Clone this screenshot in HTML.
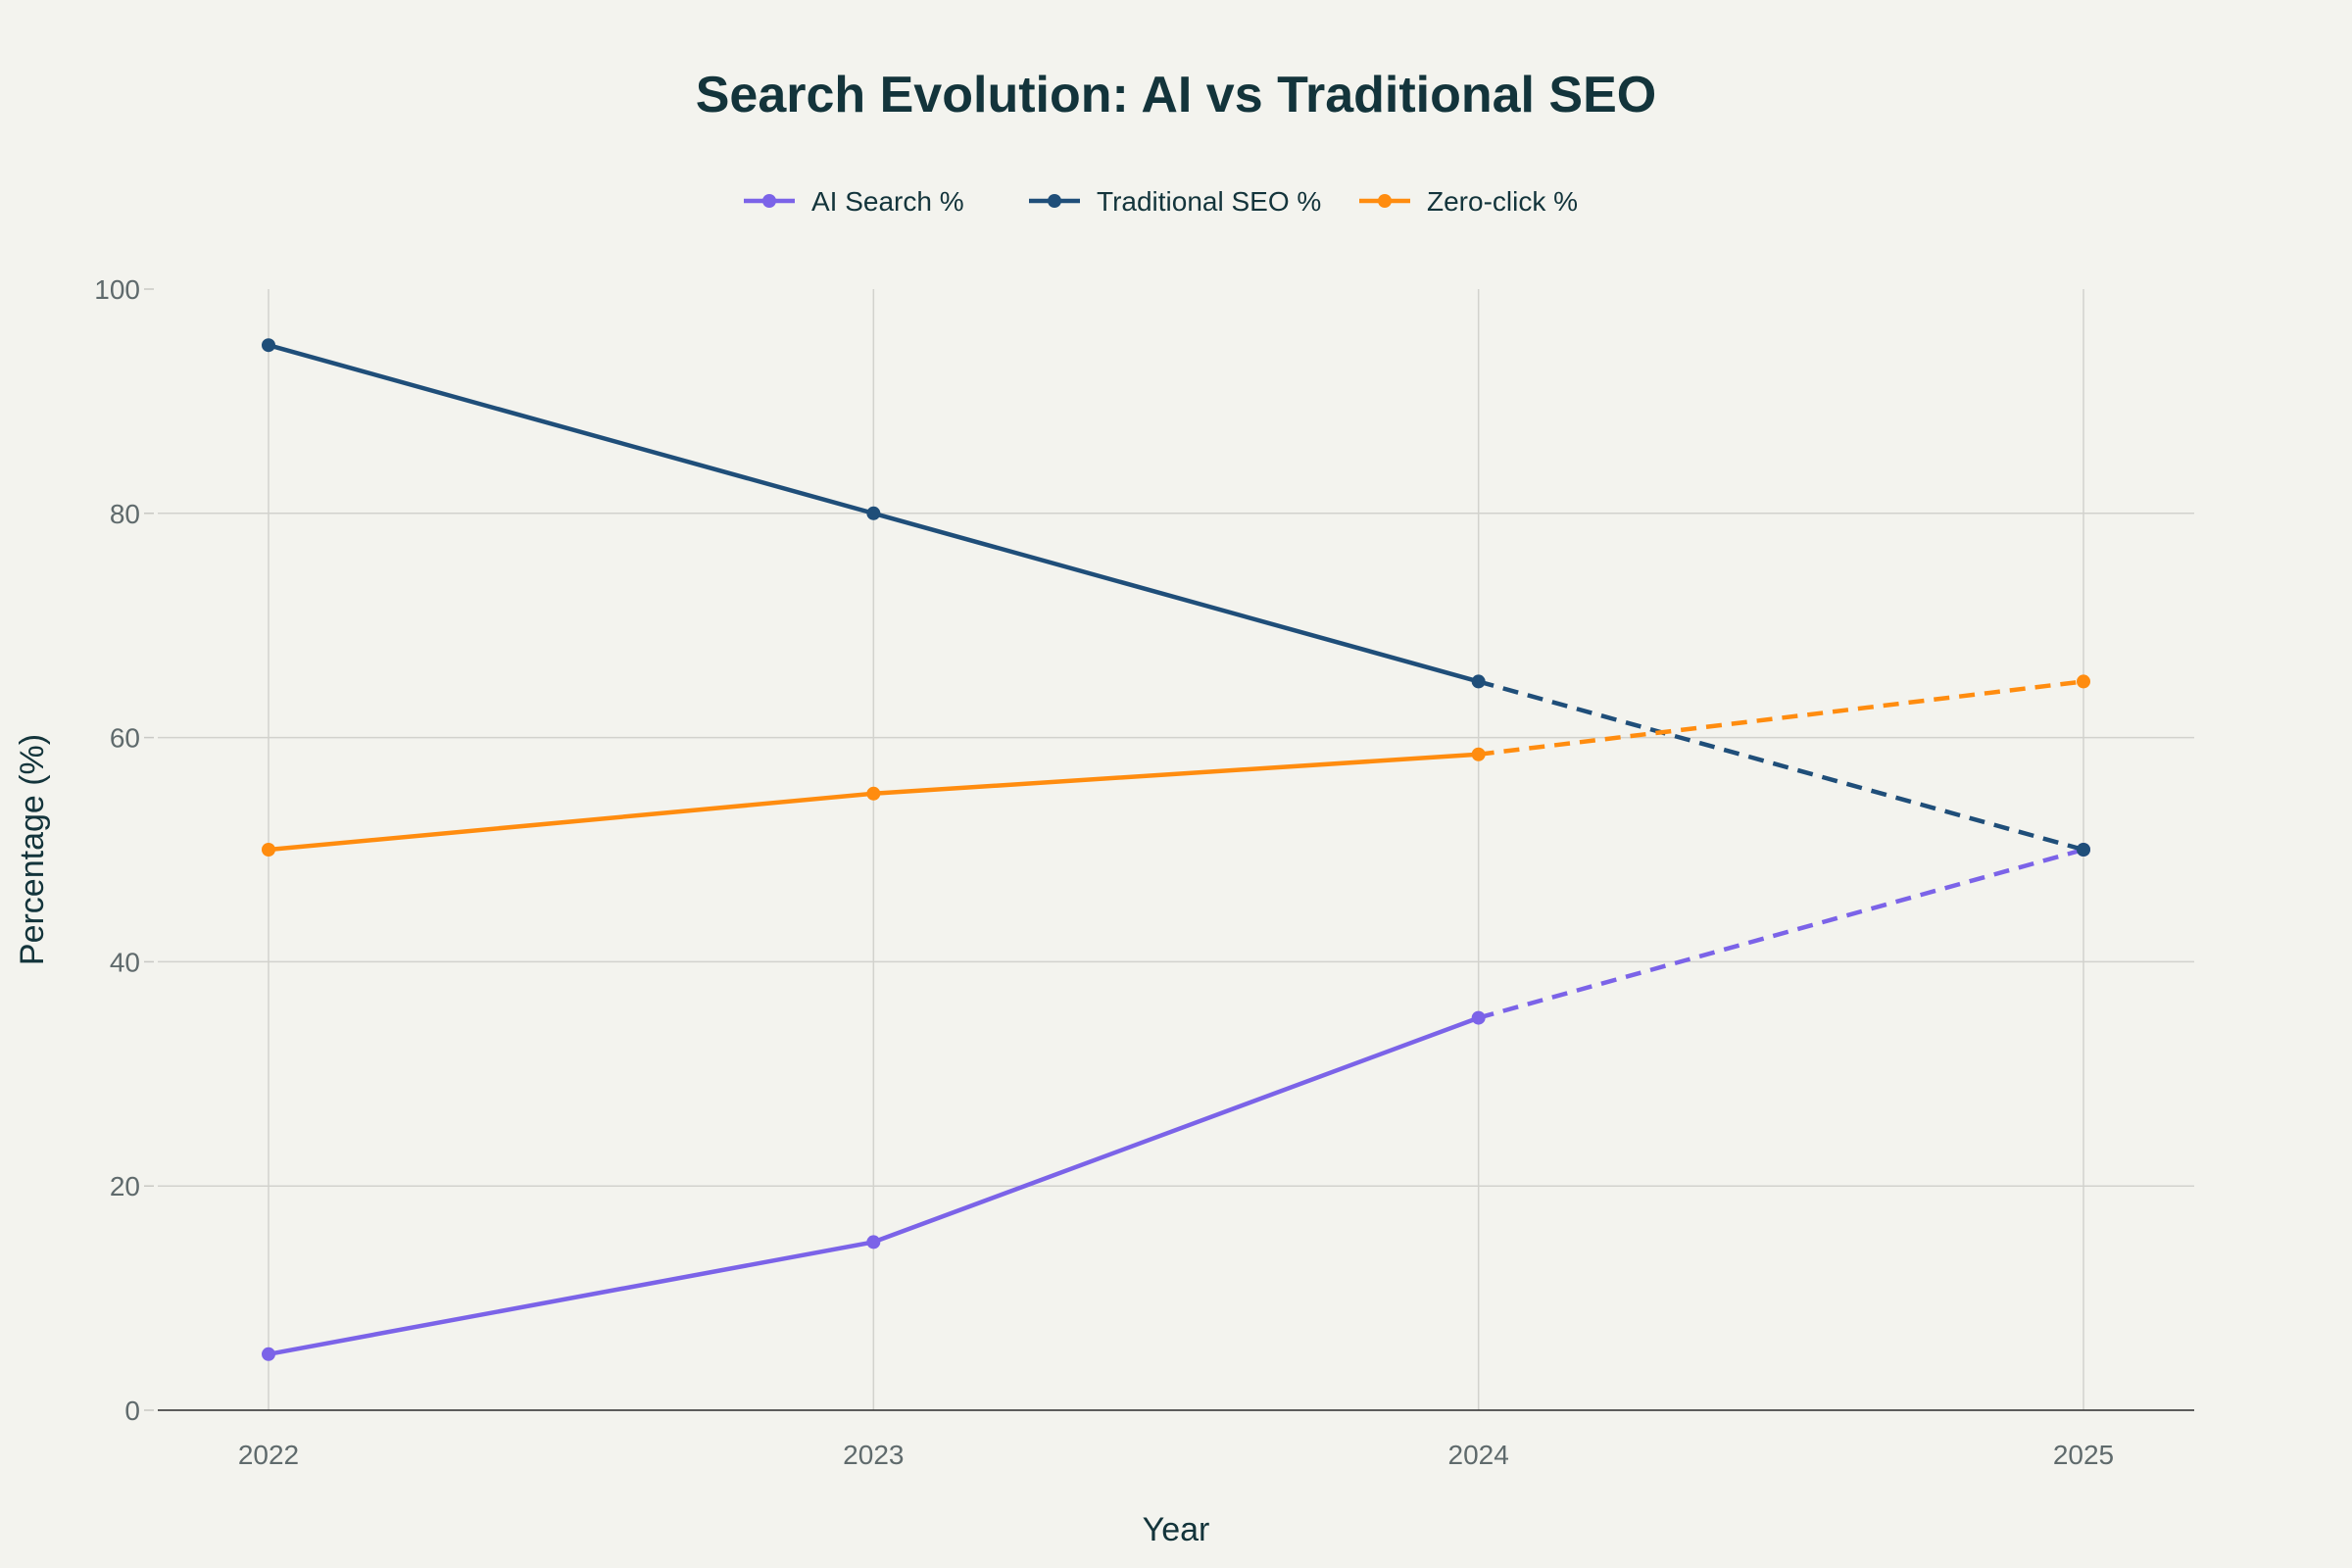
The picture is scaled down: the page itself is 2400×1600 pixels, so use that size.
<!DOCTYPE html>
<html><head><meta charset="utf-8"><style>
html,body{margin:0;padding:0;background:#f3f3ee;}
svg{display:block;font-family:"Liberation Sans",sans-serif;}
</style></head><body>
<svg id="chart" width="2400" height="1600" viewBox="0 0 2400 1600">
<rect width="2400" height="1600" fill="#f3f3ee"/>
<text x="1200" y="114" text-anchor="middle" font-size="52" font-weight="bold" fill="#13343b">Search Evolution: AI vs Traditional SEO</text>
<g id="grid"></g>
<g id="axes"></g>
<g id="series"></g>
<g id="legend"></g>
<text x="1200" y="1572" text-anchor="middle" font-size="34" fill="#13343b">Year</text>
<text transform="translate(44,867) rotate(-90)" text-anchor="middle" font-size="34" fill="#13343b">Percentage (%)</text>
</svg>
<script>
const years = [2022, 2023, 2024, 2025];
const aiSearch = [5, 15, 35, 50];
const traditionalSeo = [95, 80, 65, 50];
const zeroClick = [50, 55, 58.5, 65];
const yTicks = [0, 20, 40, 60, 80, 100];
const seriesNames = ["AI Search %", "Traditional SEO %", "Zero-click %"];
const seriesColors = ["#7b63e8", "#1f4e79", "#ff8c0f"];

const NS = "http://www.w3.org/2000/svg";
const L = 161, R = 2239, T = 295, B = 1439;
const xMin = 2021.82, xMax = 2025.18;
function xs(v){ return 274 + (v - 2022) * (2126 - 274) / 3; }
function ys(v){ return B - v / 100 * (B - T); }
function mk(tag, attrs, parent){ const e = document.createElementNS(NS, tag); for (const k in attrs) e.setAttribute(k, attrs[k]); parent.appendChild(e); return e; }

const grid = document.getElementById('grid');
const axes = document.getElementById('axes');
yTicks.forEach(t => {
  if (t > 0 && t < 100) {
    const g = mk('line', {x1: L, x2: R, y1: ys(t), y2: ys(t), stroke: '#d2d2cd', 'stroke-width': 1.5}, grid);
    
    
  }
  const tk = mk('line', {x1: L - 14, x2: L - 4, y1: ys(t), y2: ys(t), stroke: '#c8c8c4', 'stroke-width': 1.5}, axes);
  
  
  const lb = mk('text', {x: L - 18, y: ys(t) + 10, 'text-anchor': 'end', 'font-size': 28, fill: '#5f6a6c'}, axes);
  lb.textContent = t;
  
  
});
years.forEach(y => {
  const g = mk('line', {x1: xs(y), x2: xs(y), y1: T, y2: B, stroke: '#d2d2cd', 'stroke-width': 1.5}, grid);
  
  
  const lb = mk('text', {x: xs(y), y: B + 55, 'text-anchor': 'middle', 'font-size': 28, fill: '#5f6a6c'}, axes);
  lb.textContent = y;
  
  
});
const zl = mk('line', {x1: L, x2: R, y1: B, y2: B, stroke: '#2a2a2a', 'stroke-width': 1.5}, axes);



const seriesG = document.getElementById('series');
const allData = [aiSearch, traditionalSeo, zeroClick];
const keys = ['ai-search', 'traditional-seo', 'zero-click'];
allData.forEach((data, si) => {
  const col = seriesColors[si];
  const g = mk('g', {}, seriesG);
  
  
  const n = data.length;
  const solid = data.slice(0, n - 1).map((v, i) => xs(years[i]) + ',' + ys(v)).join(' ');
  const pl = mk('polyline', {points: solid, fill: 'none', stroke: col, 'stroke-width': 4.5, 'stroke-linejoin': 'round'}, g);
  
  
  const dl = mk('line', {x1: xs(years[n-2]), y1: ys(data[n-2]), x2: xs(years[n-1]), y2: ys(data[n-1]), stroke: col, 'stroke-width': 4.5, 'stroke-dasharray': '16,10'}, g);
  
  
  data.forEach((v, i) => {
    const c = mk('circle', {cx: xs(years[i]), cy: ys(v), r: 7, fill: col}, g);
    
    
  });
});

const legend = document.getElementById('legend');
const legX = [759, 1050, 1387];
seriesNames.forEach((name, i) => {
  const g = mk('g', {}, legend);
  
  
  mk('line', {x1: legX[i], x2: legX[i] + 52, y1: 205, y2: 205, stroke: seriesColors[i], 'stroke-width': 4.5}, g);
  mk('circle', {cx: legX[i] + 26, cy: 205, r: 7, fill: seriesColors[i]}, g);
  const t = mk('text', {x: legX[i] + 69, y: 215, 'font-size': 28, fill: '#13343b'}, g);
  t.textContent = name;
});
</script>
</body></html>
